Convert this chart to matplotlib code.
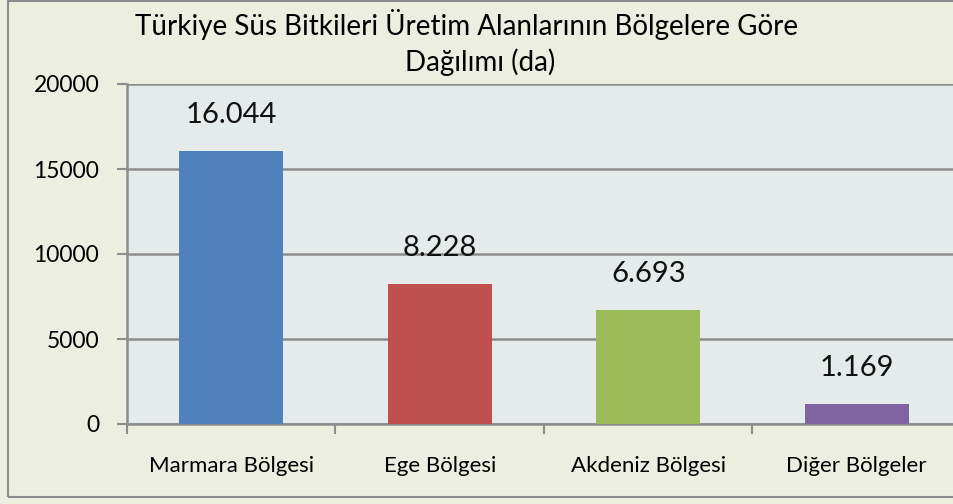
import matplotlib
matplotlib.use("Agg")
import matplotlib.pyplot as plt

regions = ["Marmara Bölgesi", "Ege Bölgesi", "Akdeniz Bölgesi", "Diğer Bölgeler"]
areas = [16044, 8228, 6693, 1169]
labels = ["16.044", "8.228", "6.693", "1.169"]
colors = ["#4F81BD", "#C0504D", "#9BBB59", "#8064A2"]
yticks = [0, 5000, 10000, 15000, 20000]

plt.rcParams["font.family"] = ["Lato", "DejaVu Sans"]

W, H = 954, 504
fig = plt.figure(figsize=(W / 100, H / 100), dpi=100)
fig.patch.set_facecolor("#ECEFDF")

# outer chart frame (right edge runs past the image like the source crop)
fig.add_artist(plt.Rectangle((8 / W, 1 - 497 / H), 1.1, (497 - 1) / H, transform=fig.transFigure,
                             fill=False, edgecolor="#8C8C8C", linewidth=1.5))

ax = fig.add_axes([127 / W, 1 - 424 / H, (961 - 127) / W, (424 - 84) / H])
ax.set_facecolor("#E5EAEA")

x = list(range(len(regions)))
ax.bar(x, areas, width=0.5, color=colors, zorder=3)
for xi, v, lab in zip(x, areas, labels):
    ax.annotate(lab, (xi, v), xytext=(0, 26), textcoords="offset points",
                ha="center", va="center", fontsize=21, color="#111111")

ax.set_xlim(-0.5, len(regions) - 0.5)
ax.set_ylim(0, 20000)
ax.set_yticks(yticks)
ax.set_yticklabels([str(t) for t in yticks], fontsize=16.5)
ax.yaxis.grid(True, color="#8C8C8C", linewidth=1.8, zorder=1)
ax.tick_params(axis="y", length=7, width=1.5, color="#8C8C8C", pad=13)

ax.set_xticks([i - 0.5 for i in range(len(regions) + 1)])
ax.set_xticklabels([])
ax.set_xticks(x, minor=True)
ax.set_xticklabels(regions, minor=True, fontsize=16)
ax.tick_params(axis="x", which="major", length=7, width=1.5, color="#8C8C8C")
ax.tick_params(axis="x", which="minor", length=0, pad=23)

for side in ["top", "right"]:
    ax.spines[side].set_visible(False)
for side in ["left", "bottom"]:
    ax.spines[side].set_color("#8C8C8C")
    ax.spines[side].set_linewidth(1.8)

fig.text(467 / W, 1 - 25 / H, "Türkiye Süs Bitkileri Üretim Alanlarının Bölgelere Göre",
         ha="center", va="center", fontsize=20)
fig.text(480 / W, 1 - 62 / H, "Dağılımı (da)", ha="center", va="center", fontsize=20)

fig.savefig("out.png", dpi=100, facecolor=fig.get_facecolor())
